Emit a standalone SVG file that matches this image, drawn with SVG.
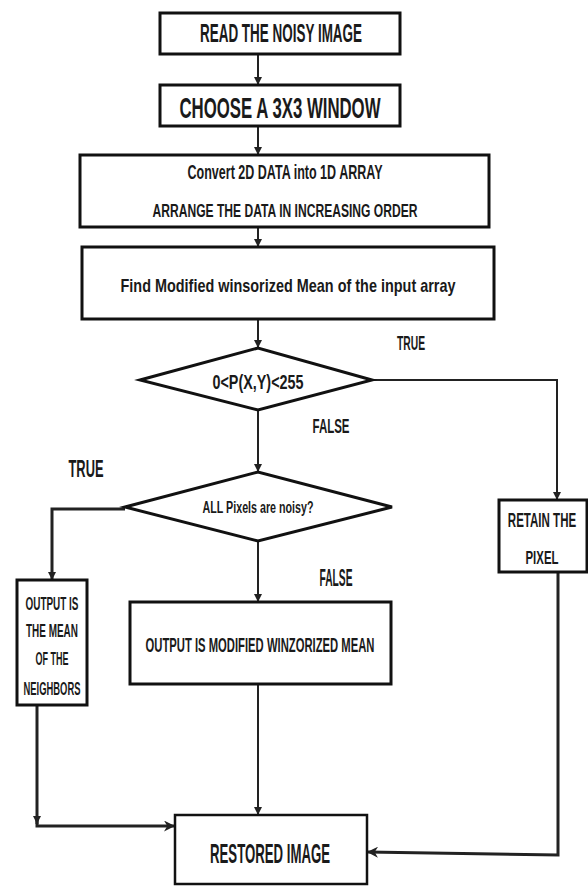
<svg xmlns="http://www.w3.org/2000/svg" width="588" height="886" viewBox="0 0 588 886">
<defs>
<style>
.box{fill:#fff;stroke:#111;stroke-width:3}
.thin{fill:#fff;stroke:#111;stroke-width:2.5}
.ln{fill:none;stroke:#222;stroke-width:2}
.t{font-family:"Liberation Sans",Arial,sans-serif;font-weight:bold;fill:#1a1a1a;text-anchor:middle}
</style>
<marker id="ah" viewBox="0 0 10 10" refX="10" refY="5" markerWidth="8" markerHeight="8" markerUnits="userSpaceOnUse" orient="auto">
<path d="M0,0 L10,5 L0,10 z" fill="#222"/>
</marker>
<marker id="ahb" viewBox="0 0 10 10" refX="10" refY="5" markerWidth="11" markerHeight="11" markerUnits="userSpaceOnUse" orient="auto">
<path d="M0,0 L10,5 L0,10 L3,5 z" fill="#222"/>
</marker>
</defs>
<rect width="588" height="886" fill="#fff"/>
<g id="connectors">
<line class="ln" x1="258" y1="54" x2="258" y2="85" marker-end="url(#ah)"/>
<line class="ln" x1="258" y1="126" x2="258" y2="155" marker-end="url(#ah)"/>
<line class="ln" x1="258" y1="227" x2="258" y2="247" marker-end="url(#ah)"/>
<line class="ln" x1="258" y1="319" x2="258" y2="348" marker-end="url(#ah)"/>
<polyline class="ln" points="372,380 557,380 557,500" marker-end="url(#ah)"/>
<line class="ln" x1="258" y1="410" x2="258" y2="472" marker-end="url(#ah)"/>
<polyline class="ln" style="stroke-width:3" points="125,509 52,509 52,580" marker-end="url(#ah)"/>
<line class="ln" x1="258" y1="541" x2="258" y2="602" marker-end="url(#ah)"/>
<line class="ln" style="stroke-width:3" x1="37" y1="705" x2="37" y2="824" marker-end="url(#ah)"/>
<polyline class="ln" style="stroke-width:3" points="37,820 37,826 175,826" marker-end="url(#ahb)"/>
<line class="ln" x1="258" y1="684" x2="258" y2="815" marker-end="url(#ah)"/>
<polyline class="ln" style="stroke-width:3" points="558,572 558,855 367,852" marker-end="url(#ahb)"/>
</g>
<g id="n1">
<rect class="box" x="160" y="13" width="240" height="41"/>
<text class="t" x="281" y="42" font-size="25" textLength="162" lengthAdjust="spacingAndGlyphs">READ THE NOISY IMAGE</text>
</g>
<g id="n2">
<rect class="box" x="160" y="85" width="240" height="41"/>
<text class="t" x="280" y="118" font-size="30" textLength="201" lengthAdjust="spacingAndGlyphs">CHOOSE A 3X3 WINDOW</text>
</g>
<g id="n3">
<rect class="box" x="80" y="155" width="409" height="72"/>
<text class="t" x="285" y="179" font-size="20" textLength="195" lengthAdjust="spacingAndGlyphs">Convert 2D DATA into 1D ARRAY</text>
<text class="t" x="285" y="217" font-size="19" textLength="265" lengthAdjust="spacingAndGlyphs">ARRANGE THE DATA IN INCREASING ORDER</text>
</g>
<g id="n4">
<rect class="box" x="82" y="247" width="412" height="72"/>
<text class="t" x="288" y="292" font-size="19" textLength="335" lengthAdjust="spacingAndGlyphs">Find Modified winsorized Mean of the input array</text>
</g>
<g id="d1">
<polygon class="box" points="140,380 258,348 372,380 258,410"/>
<text class="t" x="258" y="389" font-size="21" textLength="91" lengthAdjust="spacingAndGlyphs">0&lt;P(X,Y)&lt;255</text>
</g>
<g id="lbl-true1"><text class="t" x="411" y="350" font-size="20" textLength="28" lengthAdjust="spacingAndGlyphs">TRUE</text></g>
<g id="lbl-false1"><text class="t" x="331" y="433" font-size="20" textLength="37" lengthAdjust="spacingAndGlyphs">FALSE</text></g>
<g id="d2">
<polygon class="box" points="125,507 258,472 392,507 258,541"/>
<text class="t" x="258" y="513" font-size="16" textLength="111" lengthAdjust="spacingAndGlyphs">ALL Pixels are noisy?</text>
</g>
<g id="lbl-true2"><text class="t" x="86" y="477" font-size="24" textLength="35" lengthAdjust="spacingAndGlyphs">TRUE</text></g>
<g id="lbl-false2"><text class="t" x="336" y="586" font-size="23" textLength="33" lengthAdjust="spacingAndGlyphs">FALSE</text></g>
<g id="n-retain">
<rect class="box" x="499" y="500" width="88" height="72"/>
<text class="t" transform="translate(542,527) scale(0.55,1)" x="0" y="0" font-size="21">RETAIN THE</text>
<text class="t" x="542" y="564" font-size="19" textLength="33" lengthAdjust="spacingAndGlyphs">PIXEL</text>
</g>
<g id="n-neighbors">
<rect class="box" x="17" y="580" width="70" height="125"/>
<text class="t" x="52" y="610" font-size="18" textLength="53" lengthAdjust="spacingAndGlyphs">OUTPUT IS</text>
<text class="t" x="52" y="637" font-size="18" textLength="52" lengthAdjust="spacingAndGlyphs">THE MEAN</text>
<text class="t" x="52" y="665" font-size="18" textLength="33" lengthAdjust="spacingAndGlyphs">OF THE</text>
<text class="t" x="52" y="695" font-size="18" textLength="57" lengthAdjust="spacingAndGlyphs">NEIGHBORS</text>
</g>
<g id="n-winz">
<rect class="box" x="130" y="602" width="261" height="82"/>
<text class="t" x="260" y="652" font-size="21" textLength="229" lengthAdjust="spacingAndGlyphs">OUTPUT IS MODIFIED WINZORIZED MEAN</text>
</g>
<g id="n-restored">
<rect class="thin" x="175" y="815" width="192" height="69"/>
<text class="t" x="270" y="863" font-size="28" textLength="120" lengthAdjust="spacingAndGlyphs">RESTORED IMAGE</text>
</g>
</svg>
